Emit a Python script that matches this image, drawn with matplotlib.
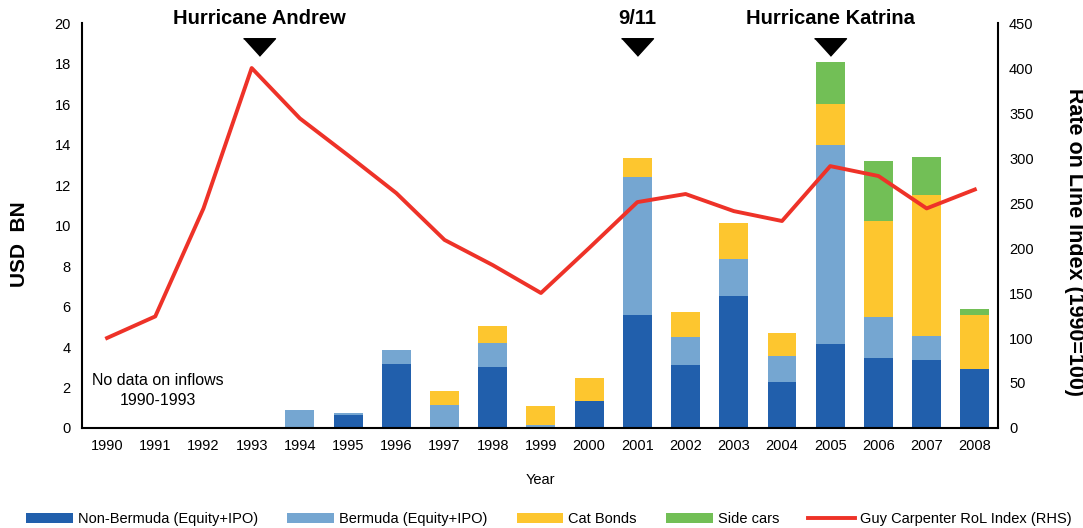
import matplotlib
matplotlib.use("Agg")
import matplotlib.pyplot as plt
import numpy as np

years = [str(y) for y in range(1990, 2009)]
non_bermuda = [0, 0, 0, 0, 0, 0.64, 3.16, 0, 3.01, 0, 1.33, 5.58, 3.11, 6.52, 2.27, 4.15, 3.46, 3.36, 2.91]
bermuda = [0, 0, 0, 0, 0.9, 0.10, 0.69, 1.14, 1.19, 0.15, 0, 6.82, 1.38, 1.83, 1.29, 9.82, 2.02, 1.18, 0]
cat_bonds = [0, 0, 0, 0, 0, 0, 0, 0.69, 0.84, 0.94, 1.14, 0.93, 1.24, 1.75, 1.13, 2.03, 4.76, 6.96, 2.67]
side_cars = [0, 0, 0, 0, 0, 0, 0, 0, 0, 0, 0, 0, 0, 0, 0, 2.07, 2.95, 1.88, 0.30]
rol_index = [100, 124, 244, 400, 344, 303, 261, 209, 181, 150, 200, 251, 260, 241, 230, 291, 280, 244, 265]
events = [("Hurricane Andrew", "1993"), ("9/11", "2001"), ("Hurricane Katrina", "2005")]

c_nb = "#215FAC"
c_b = "#75A6D1"
c_cat = "#FDC62F"
c_side = "#72BF56"
c_red = "#EE3228"

plt.rcParams['font.family'] = ['Liberation Sans', 'DejaVu Sans']

fig = plt.figure(figsize=(10.83, 5.28), dpi=100)
ax = fig.add_axes([0.0757, 0.1894, 0.8458, 0.767])
x = np.arange(len(years))
w = 0.6
nb = np.array(non_bermuda); b = np.array(bermuda); cb = np.array(cat_bonds); sc = np.array(side_cars)
ax.bar(x, nb, w, color=c_nb, label="Non-Bermuda (Equity+IPO)", zorder=2)
ax.bar(x, b, w, bottom=nb, color=c_b, label="Bermuda (Equity+IPO)", zorder=2)
ax.bar(x, cb, w, bottom=nb + b, color=c_cat, label="Cat Bonds", zorder=2)
ax.bar(x, sc, w, bottom=nb + b + cb, color=c_side, label="Side cars", zorder=2)

ax.set_xlim(-0.52, 18.48)
ax.set_ylim(0, 20)
ax.set_yticks(range(0, 21, 2))
ax.set_xticks(x)
ax.set_xticklabels(years)
ax.tick_params(length=0, labelsize=10.5, pad=8)
ax.spines['top'].set_visible(False)
ax.spines['right'].set_visible(False)
ax.spines['left'].set_linewidth(1.5)
ax.spines['bottom'].set_linewidth(1.5)
ax.set_ylabel("USD  BN", fontsize=15, fontweight='bold', va='center')
ax.yaxis.set_label_coords(-0.068, 0.454)
ax.set_xlabel("Year", fontsize=10.5, labelpad=14)

ax2 = ax.twinx()
ax2.plot(x, rol_index, color=c_red, lw=2.8, label="Guy Carpenter RoL Index (RHS)", zorder=3)
ax2.set_ylim(0, 450)
ax2.set_yticks(range(0, 451, 50))
ax2.tick_params(length=0, labelsize=10.5, pad=8)
ax2.spines['top'].set_visible(False)
ax2.spines['left'].set_visible(False)
ax2.spines['bottom'].set_visible(False)
ax2.spines['right'].set_linewidth(1.5)
ax2.set_ylabel("Rate on Line Index (1990=100)", fontsize=15.5, fontweight='bold', rotation=-90, va='center')
ax2.yaxis.set_label_coords(1.083, 0.46)

tri = [(-1, 0.55), (1, 0.55), (0, -0.55)]
shift = {"1993": 0.15}
for name, yr in events:
    i = years.index(yr) + shift.get(yr, 0.0)
    ax.plot([i], [18.84], marker=tri, markersize=23, color='black', clip_on=False, zorder=5)
    ax.text(i, 20.22, name, ha='center', va='center', fontsize=14.5, fontweight='bold', clip_on=False)

ax.text(1.05, 1.85, "No data on inflows\n1990-1993", ha='center', va='center', fontsize=11.5, linespacing=1.35)

h1, l1 = ax.get_legend_handles_labels()
h2, l2 = ax2.get_legend_handles_labels()
fig.legend(h1 + h2, l1 + l2, loc='center', bbox_to_anchor=(0.507, 0.017), ncol=5,
           frameon=False, fontsize=10.5, handlelength=3.2, handleheight=0.65, columnspacing=2.0,
           handletextpad=0.35, borderpad=0)

fig.savefig("out.png", dpi=100)
